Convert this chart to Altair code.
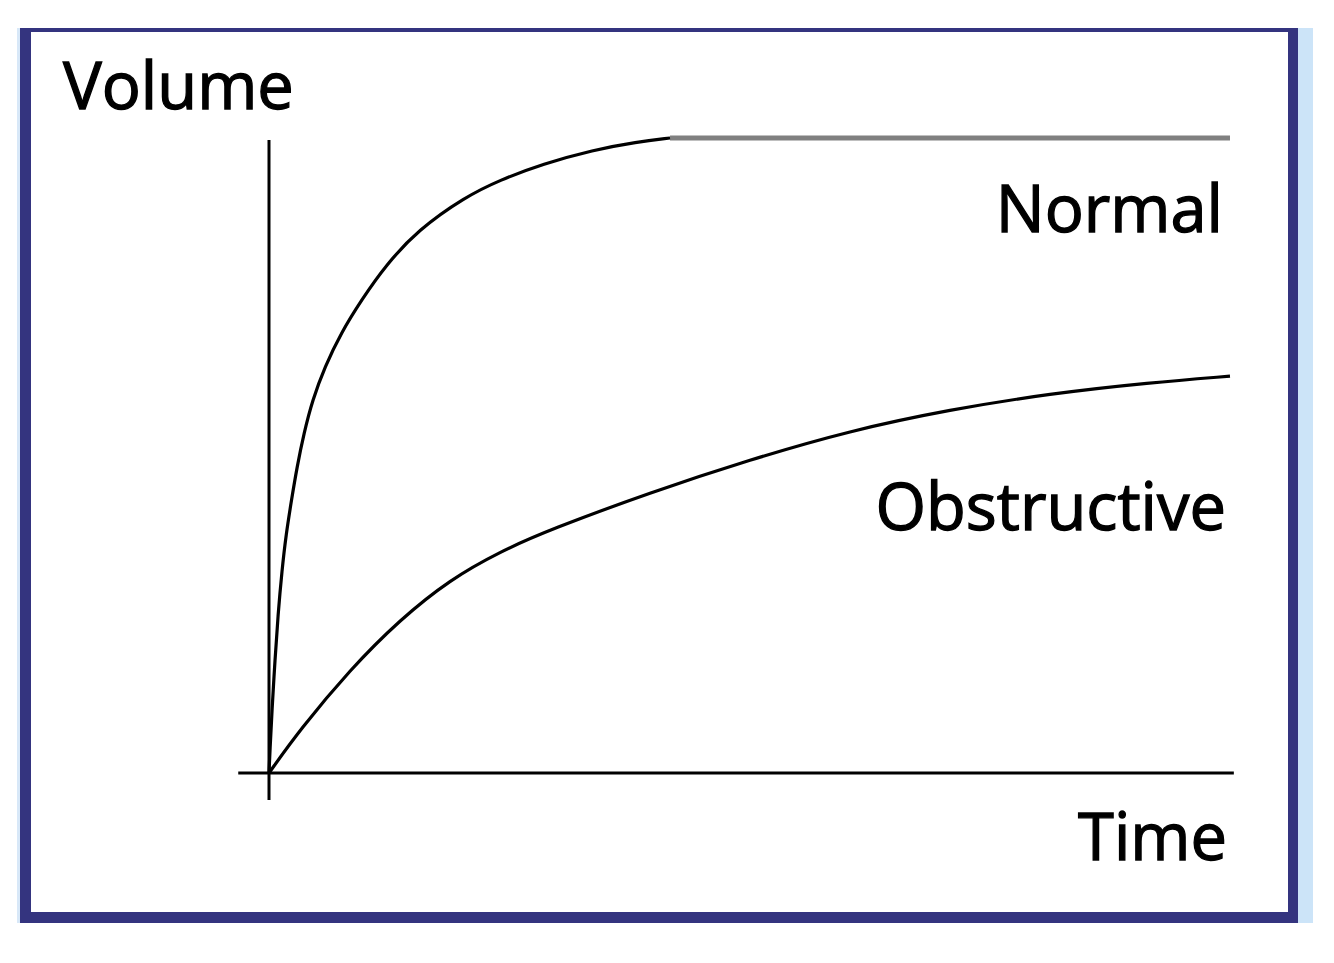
import altair as alt
import pandas as pd

# ---- data (time, volume in arbitrary units 0..100) ----
normal_t = [0, 0.104, 0.312, 0.624, 0.936, 1.353, 1.769, 2.341, 2.914, 3.642, 4.527, 5.80,
            7.49, 9.62, 12.17, 15.50, 20.40, 24.04, 28.51, 33.71, 38.29, 41.73]
normal_v = [0, 3.62, 9.92, 17.80, 24.88, 31.97, 37.48, 42.99, 48.19, 53.54, 58.74, 63.94,
            69.29, 74.49, 80.0, 85.51, 90.71, 93.39, 95.91, 98.11, 99.37, 100]
plateau_t = [41.73, 100]
plateau_v = [100, 100]
obstr_t = [0, 3.23, 8.43, 13.63, 18.83, 24.04, 29.24, 39.65, 50.05, 60.46, 70.86, 81.27, 91.68, 100]
obstr_v = [0, 6.83, 16.28, 24.16, 30.46, 34.87, 38.33, 44.16, 49.35, 53.92, 57.23, 59.75, 61.48, 62.49]
labels = ["Volume", "Normal", "Obstructive", "Time"]

W, H = 1318, 947
xs = alt.Scale(domain=[-27.159, 109.99], nice=False, zero=False)
ys = alt.Scale(domain=[-28.662, 120.472], nice=False, zero=False)
FONT = "Open Sans"
NAVY = "#34347f"

def X(f="t"):
    return alt.X(f"{f}:Q", scale=xs, axis=None)

def Y(f="v"):
    return alt.Y(f"{f}:Q", scale=ys, axis=None)

one = pd.DataFrame({"a": [0]})

# frame pieces (decoration, pixel positions)
def rect(x, x2, y, y2, color):
    return alt.Chart(one).mark_rect(color=color).encode(
        x=alt.value(x), x2=alt.value(x2), y=alt.value(y), y2=alt.value(y2))

frame = [
    rect(1290, 1305, 20, 915, "#cce4f8"),
    rect(9, 12, 20, 915, "#d8e8f8"),
    rect(12, 1290, 20, 24, NAVY),
    rect(12, 23, 20, 915, NAVY),
    rect(1280, 1290, 20, 915, NAVY),
    rect(12, 1290, 904, 915, NAVY),
]

# axes lines
vaxis = pd.DataFrame({"t": [0], "v": [-4.25], "v2": [99.7]})
haxis = pd.DataFrame({"v": [0], "t": [-3.2], "t2": [100.4]})
vrule = alt.Chart(vaxis).mark_rule(color="black", strokeWidth=3).encode(x=X(), y=Y(), y2="v2:Q")
hrule = alt.Chart(haxis).mark_rule(color="black", strokeWidth=3).encode(y=Y(), x=X(), x2="t2:Q")

ndf = pd.DataFrame({"t": normal_t, "v": normal_v, "o": range(len(normal_t))})
pdf = pd.DataFrame({"t": plateau_t, "v": plateau_v, "o": range(len(plateau_t))})
odf = pd.DataFrame({"t": obstr_t, "v": obstr_v, "o": range(len(obstr_t))})

plateau = alt.Chart(pdf).mark_line(color="#808080", strokeWidth=5).encode(x=X(), y=Y(), order="o:Q")
normal = alt.Chart(ndf).mark_line(color="black", strokeWidth=3.2, interpolate="basis").encode(x=X(), y=Y(), order="o:Q")
obstr = alt.Chart(odf).mark_line(color="black", strokeWidth=3.2, interpolate="basis").encode(x=X(), y=Y(), order="o:Q")

def label(text, x, y, align):
    return alt.Chart(pd.DataFrame({"s": [text]})).mark_text(
        font=FONT, fontSize=65, align=align, baseline="alphabetic", color="black",
        stroke="black", strokeWidth=1.3
    ).encode(text="s:N", x=alt.value(x), y=alt.value(y))

texts = [
    label(labels[0], 55, 101, "left"),
    label(labels[1], 1215, 224, "right"),
    label(labels[2], 1218, 522, "right"),
    label(labels[3], 1219, 852, "right"),
]

chart = alt.layer(*frame, vrule, hrule, plateau, normal, obstr, *texts).properties(
    width=W, height=H, autosize="none", padding=0, background="white"
).configure_view(stroke=None)

chart.save("out.html", embed_options={"renderer": "svg", "actions": False})
